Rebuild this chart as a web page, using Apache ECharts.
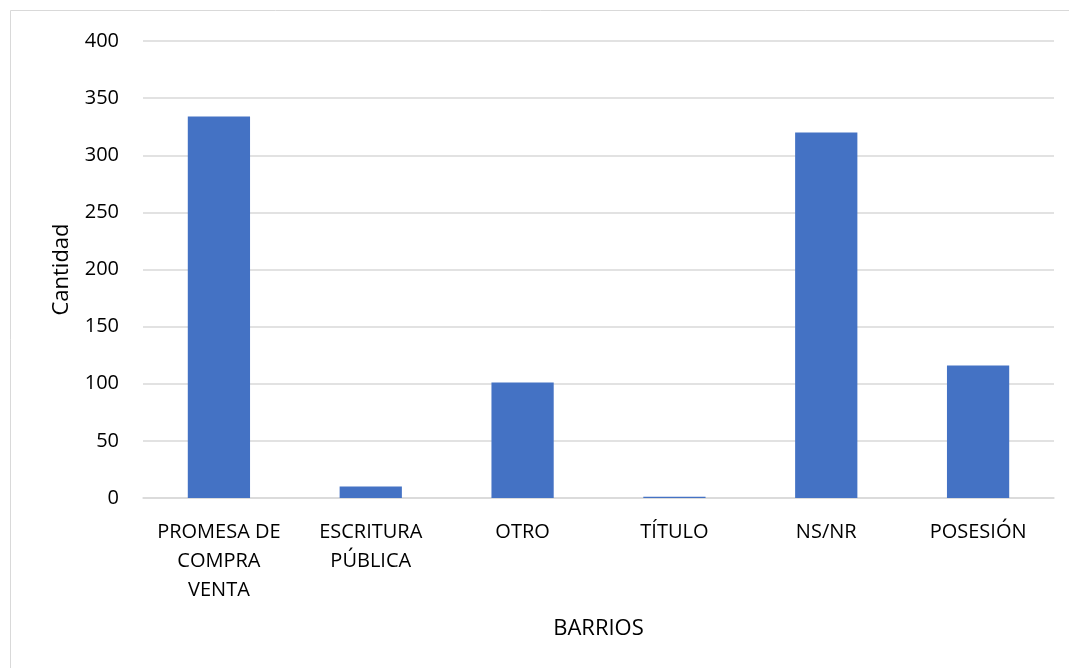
<!DOCTYPE html>
<html>
<head>
<meta charset="utf-8">
<script src="https://cdn.jsdelivr.net/npm/echarts@6/dist/echarts.min.js"></script>
<style>
  html, body { margin: 0; padding: 0; background: #fff; }
  #chart { width: 1069px; height: 668px; }
</style>
</head>
<body>
<div id="chart"></div>
<script>
// categories and values
var categories = ['PROMESA DE\nCOMPRA\nVENTA', 'ESCRITURA\nPÚBLICA', 'OTRO', 'TÍTULO', 'NS/NR', 'POSESIÓN']
var cantidad = [334, 10, 101, 1, 320, 116]

var font = 'Open Sans, Noto Sans, sans-serif'
var myChart = echarts.init(document.getElementById('chart'))
var option = {
  backgroundColor: '#fff',
  animation: false,
  graphic: [
    {
      type: 'rect',
      shape: { x: 10.5, y: 10.5, width: 1100, height: 700 },
      style: { fill: 'none', stroke: '#d9d9d9', lineWidth: 1 },
      silent: true
    }
  ],
  grid: {
    left: 143,
    right: 15,
    top: 41,
    bottom: 170
  },
  xAxis: {
    type: 'category',
    data: categories,
    name: 'BARRIOS',
    nameLocation: 'middle',
    nameGap: 120,
    nameTextStyle: { fontFamily: font, fontSize: 22, color: '#000' },
    axisLine: { lineStyle: { color: '#d9d9d9', width: 1.5 } },
    axisTick: { show: false },
    axisLabel: {
      interval: 0,
      margin: 20,
      fontFamily: font,
      fontSize: 20,
      lineHeight: 29,
      color: '#000'
    }
  },
  yAxis: {
    type: 'value',
    min: 0,
    max: 400,
    interval: 50,
    name: 'Cantidad',
    nameLocation: 'middle',
    nameGap: 70,
    nameTextStyle: { fontFamily: font, fontSize: 22, color: '#000' },
    axisLine: { show: false },
    axisTick: { show: false },
    axisLabel: {
      margin: 24,
      fontFamily: font,
      fontSize: 20,
      color: '#000'
    },
    splitLine: { lineStyle: { color: '#d9d9d9', width: 1.5 } }
  },
  series: [
    {
      type: 'bar',
      data: cantidad,
      barWidth: '41%',
      itemStyle: { color: '#4472c4' }
    }
  ]
}
myChart.setOption(option, true)
</script>
</body>
</html>
